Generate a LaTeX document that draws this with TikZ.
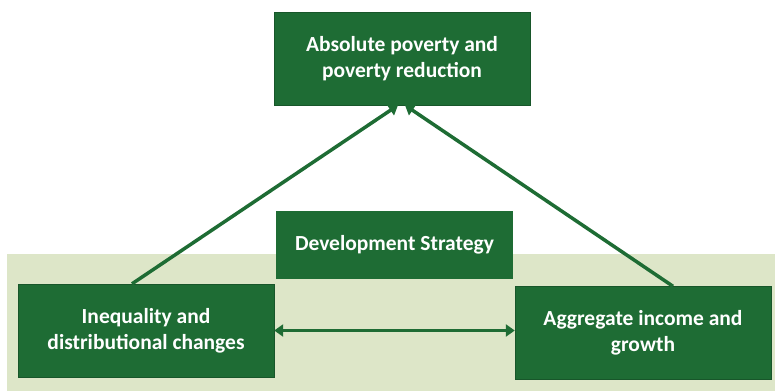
\documentclass[tikz,border=0pt]{standalone}
\usepackage{fontspec}
\setmainfont{Carlito}
\usepackage{tikz}
\usetikzlibrary{arrows.meta,positioning}
\usepackage{xcolor}
\definecolor{boxgreen}{RGB}{30,108,52}
\definecolor{bandgreen}{RGB}{221,230,200}

\begin{document}
\begin{tikzpicture}[x=1pt, y=-1pt,
    factor/.style={rectangle, draw=boxgreen!80!black, fill=boxgreen, text=white,
               minimum width=256pt, minimum height=93pt, font=\fontsize{21.5}{26}\selectfont\bfseries,
               align=center, inner sep=0pt},
    strat/.style={rectangle, fill=boxgreen, text=white,
               minimum width=237pt, minimum height=68pt, font=\fontsize{21.5}{26}\selectfont\bfseries,
               align=center, inner sep=0pt},
    arr/.style={-{Triangle[length=9pt, width=12pt]}, line width=3.5pt, draw=boxgreen}
]
    \useasboundingbox (0,0) rectangle (775,391);
    % light band behind the lower row
    \fill[bandgreen] (7,254) rectangle (775,391);

    \node[factor] (pov) at (402,58.5) {Absolute poverty and\\poverty reduction};
    \node[strat]  (dev) at (394.5,245) {Development Strategy};
    \node[factor] (ineq) at (146,330.5) {Inequality and\\distributional changes};
    \node[factor] (agg)  at (643,333) {Aggregate income and\\growth};

    \draw[arr] (ineq.north) ++(-14,0) coordinate (ineqtop) -- ([xshift=-4pt]pov.south);
    \draw[arr] (agg.north)  ++(30,0)  coordinate (aggtop)  -- ([xshift=3pt]pov.south);
    \draw[arr, {Triangle[length=9pt, width=12pt]}-{Triangle[length=9pt, width=12pt]}]
        (ineq.east) -- (ineq.east -| agg.west);
\end{tikzpicture}
\end{document}
